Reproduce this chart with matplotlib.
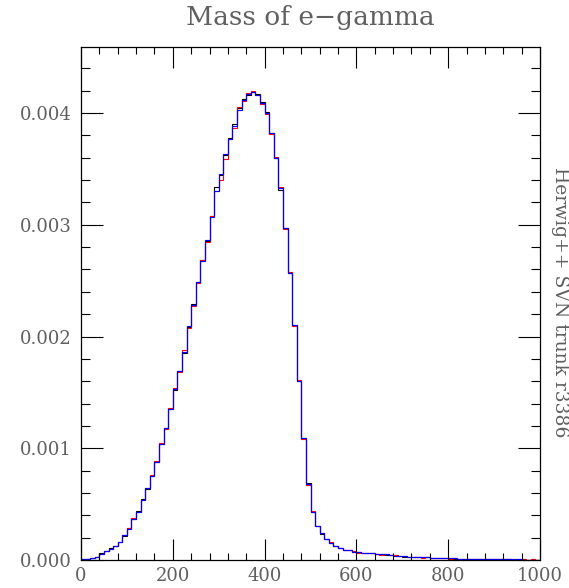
import numpy as np
import matplotlib
matplotlib.use("Agg")
import matplotlib.pyplot as plt
from matplotlib.ticker import MultipleLocator, FixedFormatter, FixedLocator

# Bin edges: 100 bins of width 10 from 0 to 1000
bin_edges = np.arange(0, 1001, 10)

# Normalised distributions of the e-gamma invariant mass
mass_blue = [
    0.000005, 0.000010, 0.000015, 0.000027, 0.000057, 0.000080, 0.000100, 0.000125, 0.000160, 0.000220,
    0.000280, 0.000370, 0.000430, 0.000540, 0.000640, 0.000750, 0.000880, 0.001040, 0.001180, 0.001350,
    0.001530, 0.001690, 0.001860, 0.002090, 0.002280, 0.002490, 0.002680, 0.002860, 0.003070, 0.003300,
    0.003450, 0.003630, 0.003770, 0.003880, 0.004030, 0.004120, 0.004170, 0.004190, 0.004160, 0.004090,
    0.004000, 0.003820, 0.003600, 0.003330, 0.002970, 0.002570, 0.002100, 0.001600, 0.001090, 0.000680,
    0.000430, 0.000300, 0.000240, 0.000190, 0.000155, 0.000128, 0.000110, 0.000092, 0.000088, 0.000075,
    0.000068, 0.000065, 0.000063, 0.000060, 0.000055, 0.000050, 0.000050, 0.000047, 0.000040, 0.000035,
    0.000033, 0.000030, 0.000030, 0.000028, 0.000026, 0.000025, 0.000020, 0.000018, 0.000018, 0.000016,
    0.000015, 0.000014, 0.000010, 0.000010, 0.000009, 0.000009, 0.000008, 0.000008, 0.000007, 0.000007,
    0.000006, 0.000006, 0.000006, 0.000005, 0.000005, 0.000005, 0.000004, 0.000004, 0.000004, 0.000004,
]

mass_black = [
    0.000005, 0.000011, 0.000018, 0.000029, 0.000059, 0.000079, 0.000104, 0.000123, 0.000163, 0.000217,
    0.000283, 0.000367, 0.000438, 0.000543, 0.000637, 0.000755, 0.000875, 0.001035, 0.001185, 0.001347,
    0.001525, 0.001690, 0.001855, 0.002085, 0.002295, 0.002485, 0.002685, 0.002855, 0.003080, 0.003340,
    0.003445, 0.003625, 0.003775, 0.003905, 0.004045, 0.004125, 0.004165, 0.004185, 0.004170, 0.004095,
    0.004010, 0.003825, 0.003595, 0.003315, 0.002975, 0.002565, 0.002105, 0.001605, 0.001095, 0.000685,
    0.000432, 0.000300, 0.000237, 0.000192, 0.000152, 0.000129, 0.000107, 0.000093, 0.000086, 0.000073,
    0.000069, 0.000063, 0.000061, 0.000059, 0.000053, 0.000052, 0.000049, 0.000046, 0.000041, 0.000036,
    0.000031, 0.000029, 0.000031, 0.000026, 0.000025, 0.000023, 0.000019, 0.000017, 0.000017, 0.000017,
    0.000014, 0.000013, 0.000011, 0.000009, 0.000010, 0.000008, 0.000009, 0.000007, 0.000007, 0.000006,
    0.000007, 0.000005, 0.000006, 0.000005, 0.000004, 0.000006, 0.000004, 0.000003, 0.000004, 0.000003,
]

mass_red = [
    0.000004, 0.000010, 0.000016, 0.000026, 0.000056, 0.000083, 0.000099, 0.000128, 0.000159, 0.000223,
    0.000286, 0.000373, 0.000427, 0.000535, 0.000645, 0.000758, 0.000885, 0.001045, 0.001175, 0.001360,
    0.001535, 0.001685, 0.001875, 0.002080, 0.002275, 0.002480, 0.002685, 0.002850, 0.003080, 0.003305,
    0.003400, 0.003585, 0.003765, 0.003870, 0.004055, 0.004110, 0.004175, 0.004200, 0.004165, 0.004085,
    0.003995, 0.003815, 0.003605, 0.003340, 0.002965, 0.002575, 0.002095, 0.001610, 0.001080, 0.000675,
    0.000438, 0.000305, 0.000243, 0.000187, 0.000158, 0.000126, 0.000111, 0.000091, 0.000089, 0.000077,
    0.000067, 0.000064, 0.000060, 0.000061, 0.000054, 0.000049, 0.000051, 0.000045, 0.000041, 0.000034,
    0.000035, 0.000027, 0.000029, 0.000027, 0.000022, 0.000026, 0.000021, 0.000016, 0.000019, 0.000015,
    0.000013, 0.000015, 0.000010, 0.000011, 0.000008, 0.000010, 0.000007, 0.000009, 0.000006, 0.000008,
    0.000005, 0.000007, 0.000005, 0.000006, 0.000004, 0.000003, 0.000005, 0.000004, 0.000006, 0.000003,
]

x_major = [0, 200, 400, 600, 800, 1000]
x_labels = ["0", "200", "400", "600", "800", "1000"]
y_major = [0.0, 0.001, 0.002, 0.003, 0.004]
y_labels = ["0.000", "0.001", "0.002", "0.003", "0.004"]

W, H = 569, 588
fig = plt.figure(figsize=(W / 100, H / 100), dpi=100)
ax = fig.add_axes([81 / W, 1 - 560 / H, (540 - 81) / W, (560 - 47) / H])

ax.stairs(mass_black, bin_edges, color="black", linewidth=0.8)
ax.stairs(mass_red, bin_edges, color="red", linewidth=0.8)
ax.stairs(mass_blue, bin_edges, color="blue", linewidth=0.85)

ax.set_xlim(0, 1000)
ax.set_ylim(0, (560 - 47) / 111750)

ax.xaxis.set_major_locator(FixedLocator(x_major))
ax.xaxis.set_major_formatter(FixedFormatter(x_labels))
ax.xaxis.set_minor_locator(MultipleLocator(40))
ax.yaxis.set_major_locator(FixedLocator(y_major))
ax.yaxis.set_major_formatter(FixedFormatter(y_labels))
ax.yaxis.set_minor_locator(MultipleLocator(0.0002))

ax.tick_params(axis="both", which="both", direction="in",
               top=True, right=True, width=0.8, color="black")
ax.tick_params(axis="x", which="major", length=15, pad=5)
ax.tick_params(axis="x", which="minor", length=5)
ax.tick_params(axis="y", which="major", length=16, pad=7)
ax.tick_params(axis="y", which="minor", length=6.5)

for lab in ax.get_xticklabels() + ax.get_yticklabels():
    lab.set_fontfamily("DejaVu Serif")
    lab.set_fontsize(13)
    lab.set_color("#606060")

for sp in ax.spines.values():
    sp.set_linewidth(0.9)

fig.text(310.5 / W, 1 - 18 / H, "Mass of e\u2212gamma", ha="center", va="center",
         family="DejaVu Serif", size=19, color="#606060")
fig.text(560 / W, 1 - 302 / H, "Herwig++ SVN trunk r3386", ha="center", va="center",
         rotation=-90, family="DejaVu Serif", size=13.5, color="#606060")

fig.savefig("out.png", dpi=100)
